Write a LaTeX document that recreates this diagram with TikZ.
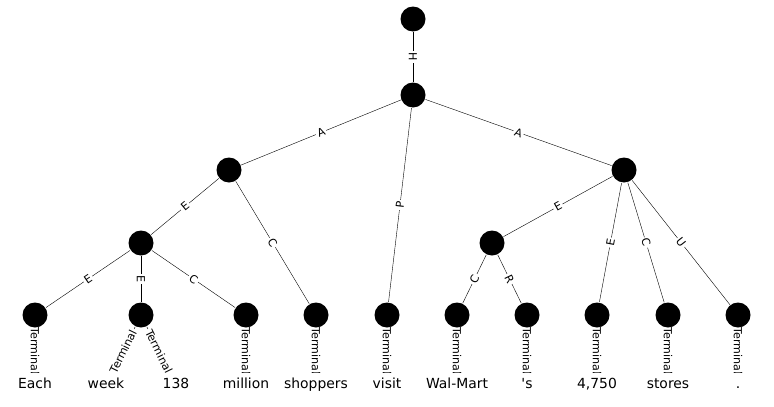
\documentclass[tikz,border=0pt]{standalone}
\usepackage{fontspec}
\newfontfamily\plotfont{DejaVu Sans}
\usetikzlibrary{backgrounds}

\begin{document}
\begin{tikzpicture}[x = 1pt, y = -1pt, line width = 1.4pt,
    vertex/.style = {circle, fill = black, minimum size = 25pt, inner sep = 0pt},
    word/.style = {circle, fill = white, minimum size = 27pt, inner sep = 0pt,
      label = {[font = \plotfont\fontsize{13.9}{14}\selectfont, text height = 1.5ex, text depth = 0.25ex]center:#1}},
    description/.style = {fill = white, inner sep = 1.5pt, sloped, font = \plotfont\fontsize{11.1}{12}\selectfont}]
      \useasboundingbox (0,0) rectangle (774,407);
      \node[vertex] (top) at (413,19) {};
      \node[vertex] (h) at (413,95) {};
      \node[vertex] (al) at (229,170) {};
      \node[vertex] (ar) at (624,170) {};
      \node[vertex] (el) at (141,243) {};
      \node[vertex] (er) at (492,243) {};
      \node[vertex] (l1) at (35,315) {};
      \node[vertex] (l2) at (141,315) {};
      \node[vertex] (l3) at (246,315) {};
      \node[vertex] (l4) at (316,315) {};
      \node[vertex] (l5) at (387,315) {};
      \node[vertex] (l6) at (457,315) {};
      \node[vertex] (l7) at (527,315) {};
      \node[vertex] (l8) at (597,315) {};
      \node[vertex] (l9) at (668,315) {};
      \node[vertex] (l10) at (738,315) {};
      \node[word=Each] (w1) at (35,386) {};
      \node[word=week] (w2) at (106,386) {};
      \node[word=138] (w3) at (176,386) {};
      \node[word=million] (w4) at (246,386) {};
      \node[word=shoppers] (w5) at (316,386) {};
      \node[word=visit] (w6) at (387,386) {};
      \node[word=Wal-Mart] (w7) at (457,386) {};
      \node[word='s] (w8) at (527,386) {};
      \node[word={4,750}] (w9) at (597,386) {};
      \node[word=stores] (w10) at (668,386) {};
      \node[word=.] (w11) at (738,386) {};
      \begin{scope}[on background layer]
      \draw (top) edge node[description] {H} (h)
            (h) edge node[description] {A} (al)
            (h) edge node[description] {P} (l5)
            (h) edge node[description] {A} (ar)
            (al) edge node[description] {E} (el)
            (al) edge node[description] {C} (l4)
            (el) edge node[description] {E} (l1)
            (el) edge node[description] {E} (l2)
            (el) edge node[description] {C} (l3)
            (ar) edge node[description] {E} (er)
            (ar) edge node[description] {E} (l8)
            (ar) edge node[description] {C} (l9)
            (ar) edge node[description] {U} (l10)
            (er) edge node[description] {C} (l6)
            (er) edge node[description] {R} (l7);
      \draw[every node/.append style = {pos = 0.53}]
            (l1) edge node[description] {Terminal} (w1)
            (l2) edge node[description] {Terminal} (w2)
            (l2) edge node[description] {Terminal} (w3)
            (l3) edge node[description] {Terminal} (w4)
            (l4) edge node[description] {Terminal} (w5)
            (l5) edge node[description] {Terminal} (w6)
            (l6) edge node[description] {Terminal} (w7)
            (l7) edge node[description] {Terminal} (w8)
            (l8) edge node[description] {Terminal} (w9)
            (l9) edge node[description] {Terminal} (w10)
            (l10) edge node[description] {Terminal} (w11);
      \end{scope}
    \end{tikzpicture}
\end{document}
